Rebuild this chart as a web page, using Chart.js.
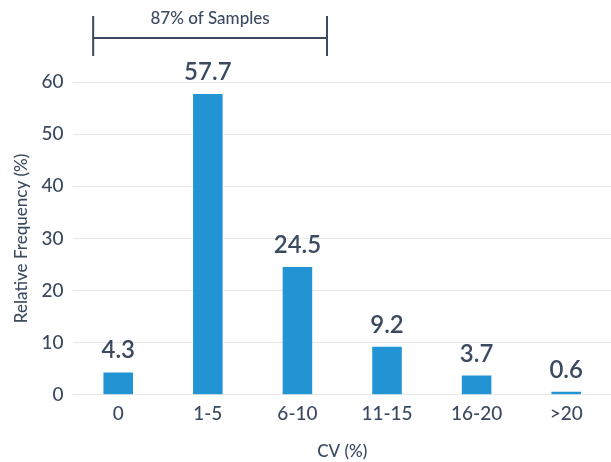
<!DOCTYPE html>
<html>
<head>
<meta charset="utf-8">
<script src="https://cdn.jsdelivr.net/npm/chart.js@4"></script>
<style>
  html, body { margin: 0; padding: 0; background: #fff; }
  #wrap { width: 611px; height: 462px; }
</style>
</head>
<body>
<div id="wrap"><canvas id="myChart" width="611" height="462"></canvas></div>
<script>
const categories = ['0', '1-5', '6-10', '11-15', '16-20', '>20'];
const frequency = [4.3, 57.7, 24.5, 9.2, 3.7, 0.6];
const yTicks = [0, 10, 20, 30, 40, 50, 60];
const bracketText = '87% of Samples';
const bracketRange = [0, 2]; // first and last category covered

const textColor = '#3b4a60';
const barColor = '#2394d3';
const fontFamily = 'Lato, "Noto Sans", sans-serif';

// value labels above bars
const valueLabels = {
    id: 'valueLabels',
    afterDatasetsDraw(chart) {
        const ctx = chart.ctx;
        const meta = chart.getDatasetMeta(0);
        ctx.save();
        ctx.fillStyle = textColor;
        ctx.font = '600 24px ' + fontFamily;
        ctx.textAlign = 'center';
        ctx.textBaseline = 'alphabetic';
        meta.data.forEach((bar, i) => {
            ctx.fillText(frequency[i].toFixed(1), bar.x, bar.y - 14);
        });
        ctx.restore();
    }
};

// bracket at the top
const bracket = {
    id: 'bracket',
    afterDraw(chart) {
        const ctx = chart.ctx;
        const x = chart.scales.x;
        const step = x.getPixelForValue(1) - x.getPixelForValue(0);
        const left = x.getPixelForValue(bracketRange[0]) - 0.28 * step;
        const right = x.getPixelForValue(bracketRange[1]) + 0.33 * step;
        const yMid = 38;
        ctx.save();
        ctx.strokeStyle = textColor;
        ctx.lineWidth = 2;
        ctx.beginPath();
        ctx.moveTo(left, 16); ctx.lineTo(left, 56);
        ctx.moveTo(right, 16); ctx.lineTo(right, 56);
        ctx.moveTo(left, yMid); ctx.lineTo(right, yMid);
        ctx.stroke();
        ctx.fillStyle = textColor;
        ctx.font = '500 17px ' + fontFamily;
        ctx.textAlign = 'center';
        ctx.textBaseline = 'alphabetic';
        ctx.fillText(bracketText, (left + right) / 2, 24);
        ctx.restore();
    }
};

const ctx = document.getElementById('myChart');
const myChart = new Chart(ctx, {
    type: 'bar',
    data: {
        labels: categories,
        datasets: [{
            data: frequency,
            backgroundColor: barColor,
            barPercentage: 0.33,
            categoryPercentage: 1.0
        }]
    },
    options: {
        responsive: false,
        animation: false,
        layout: { padding: { top: 82, right: 0, left: 7, bottom: 0 } },
        plugins: {
            legend: { display: false },
            tooltip: { enabled: false }
        },
        scales: {
            x: {
                grid: { display: false, drawTicks: false },
                border: { display: false },
                ticks: { color: textColor, font: { size: 19, weight: '500', family: fontFamily }, padding: 8 },
                title: {
                    display: true,
                    text: 'CV (%)',
                    color: textColor,
                    font: { size: 17, weight: '500', family: fontFamily },
                    padding: { top: 8, bottom: 0 }
                }
            },
            y: {
                min: 0,
                max: 60,
                afterBuildTicks(axis) {
                    axis.ticks = yTicks.map(v => ({ value: v }));
                },
                grid: { color: '#e8e8e8', drawTicks: false },
                border: { display: false },
                ticks: { color: textColor, font: { size: 19, weight: '500', family: fontFamily }, padding: 10 },
                title: {
                    display: true,
                    text: 'Relative Frequency (%)',
                    color: textColor,
                    font: { size: 17, weight: '500', family: fontFamily },
                    padding: { top: 4, bottom: 0 }
                }
            }
        }
    },
    plugins: [valueLabels, bracket]
});
</script>
</body>
</html>
